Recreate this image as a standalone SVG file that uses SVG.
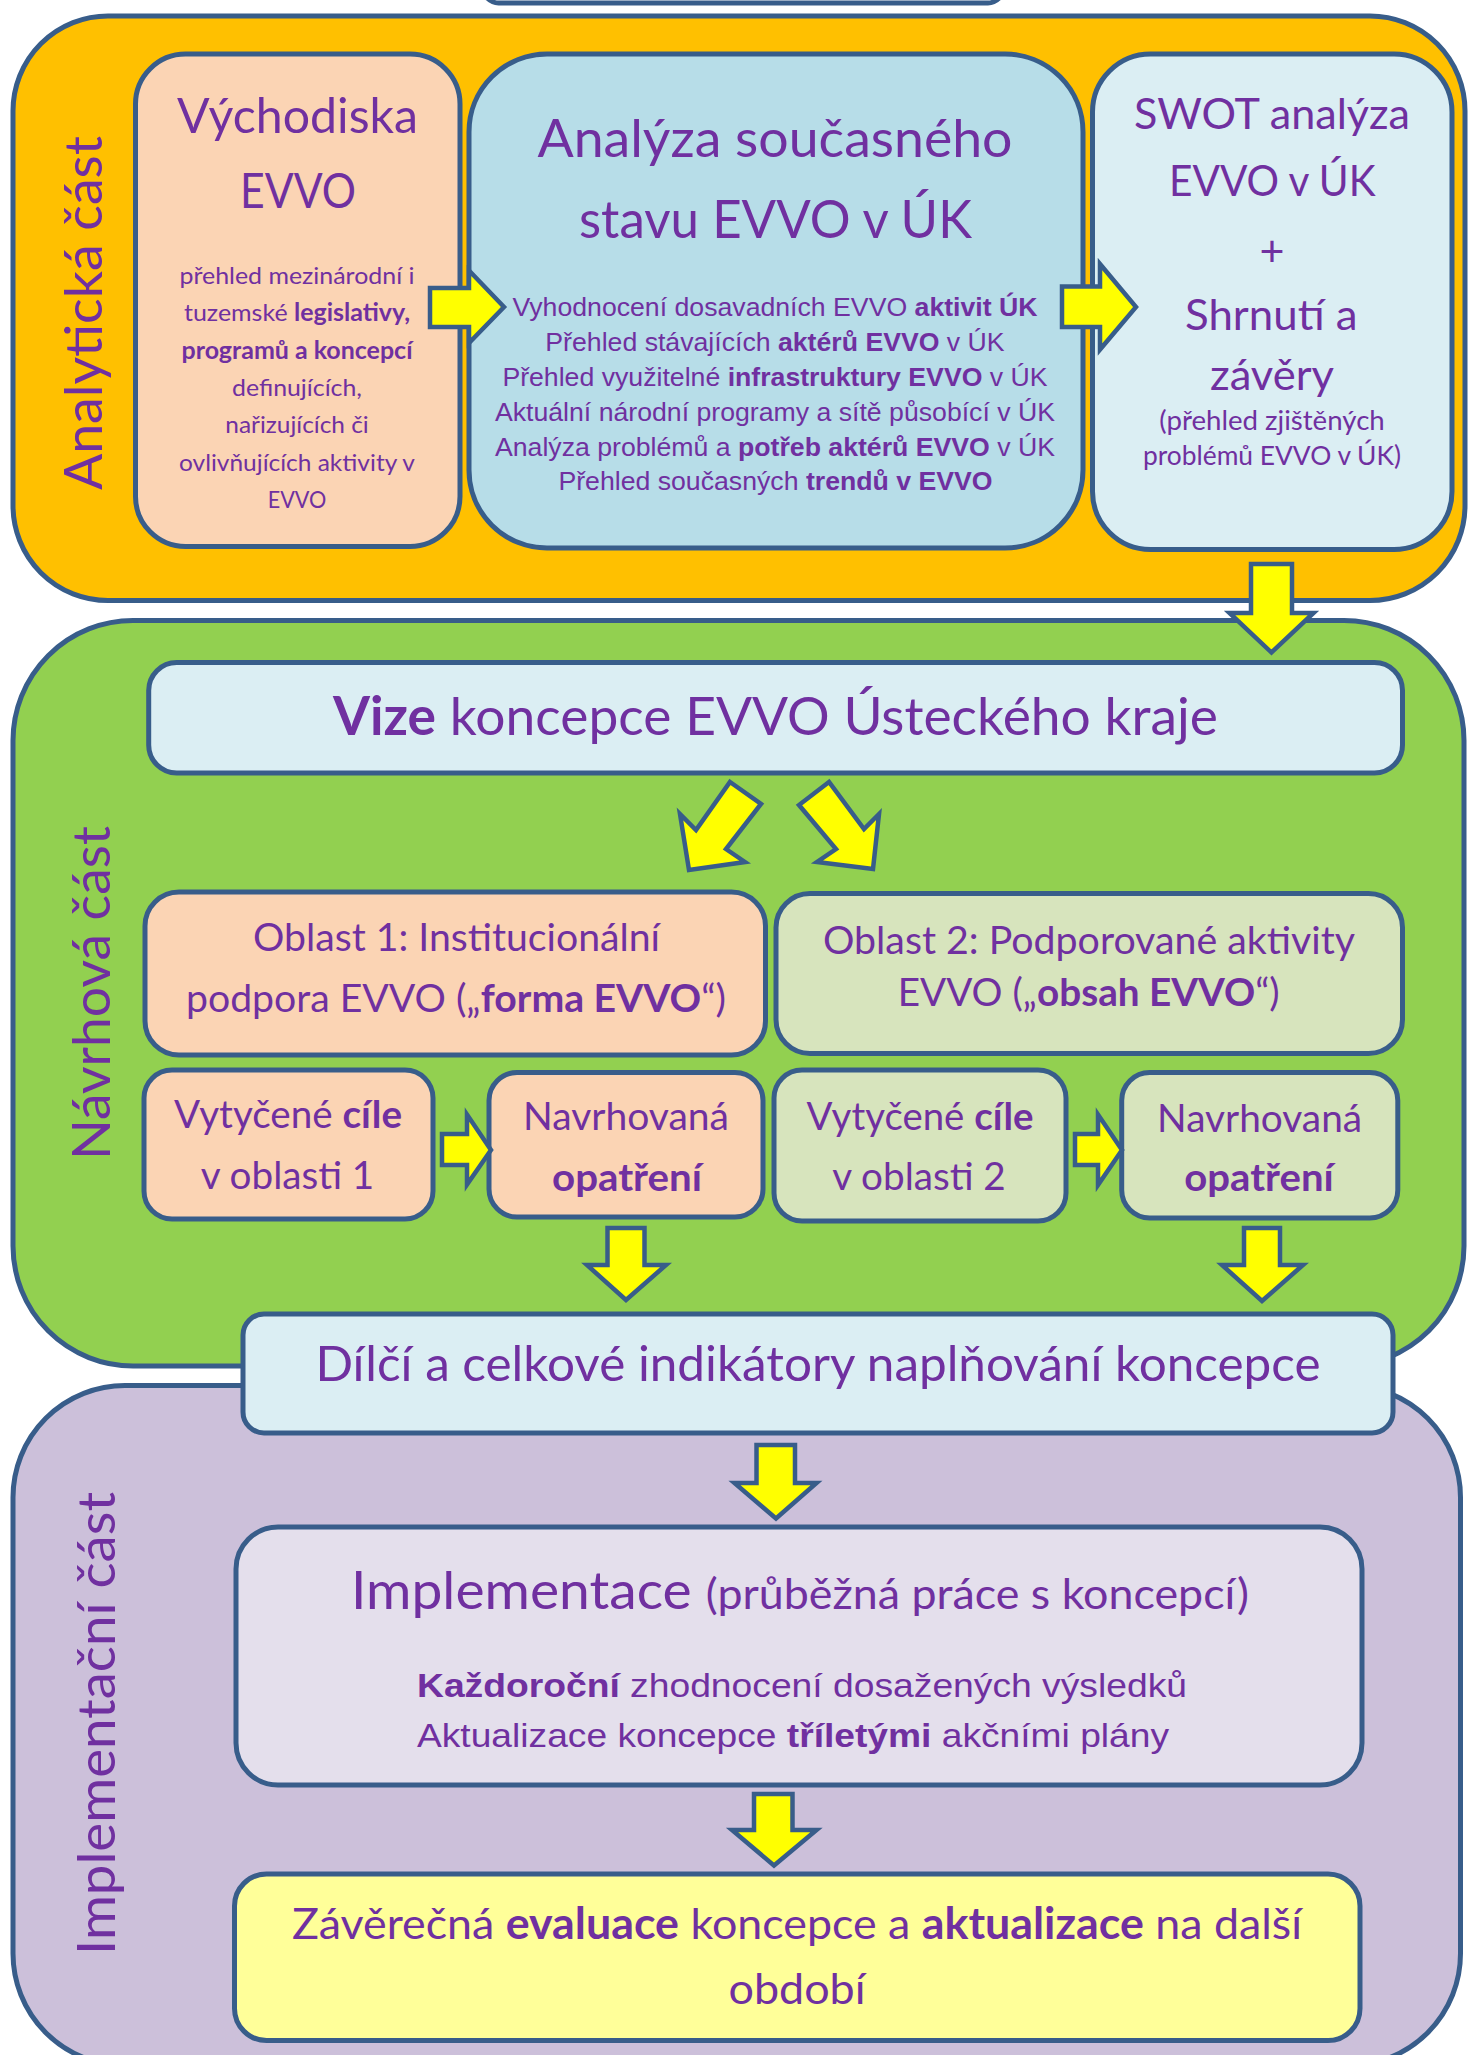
<svg xmlns="http://www.w3.org/2000/svg" width="1470" height="2055" viewBox="0 0 1470 2055">
<style>
.sec{stroke:#385D8A;stroke-width:5}
.box{stroke:#385D8A;stroke-width:5}
.arr{fill:#FFFF00;stroke:#385D8A;stroke-width:4.5;stroke-linejoin:miter}
.c{font-family:Lato,"Noto Sans","Liberation Sans",sans-serif;fill:#7030A0;text-anchor:middle}
.a{font-family:"Liberation Sans",Arial,sans-serif;fill:#7030A0;text-anchor:middle;font-size:26.67px}
.b{font-weight:bold}
</style>
<rect width="1470" height="2055" fill="#FFFFFF"/>
<g id="top-box"><rect x="483.5" y="-60" width="519.5" height="63" rx="15" fill="#FFFFFF" class="box"/></g>

<g id="analyticka-cast">
<rect class="sec" x="13" y="16" width="1452" height="584.5" rx="95" fill="#FFC000"/>
<text class="c" font-size="53" transform="translate(101.5,313) rotate(-90)" textLength="354" lengthAdjust="spacingAndGlyphs">Analytická část</text>
</g>
<g id="navrhova-cast">
<rect class="sec" x="13" y="620.5" width="1451" height="745.5" rx="120" fill="#92D050"/>
<text class="c" font-size="53" transform="translate(109.5,993) rotate(-90)" textLength="334" lengthAdjust="spacingAndGlyphs">Návrhová část</text>
</g>
<g id="implementacni-cast">
<rect class="sec" x="13" y="1385.5" width="1447.5" height="680" rx="112" fill="#CCC0DA"/>
<text class="c" font-size="53" transform="translate(114.7,1723.5) rotate(-90)" textLength="463" lengthAdjust="spacingAndGlyphs">Implementační část</text>
</g>

<g id="vychodiska">
<rect class="box" x="135.5" y="54" width="324.5" height="492.5" rx="50" fill="#FBD4B4"/>
<text class="c" font-size="48" x="297.5" y="132.5" textLength="241" lengthAdjust="spacingAndGlyphs">Východiska</text>
<text class="c" font-size="48" x="298" y="207.5" textLength="116" lengthAdjust="spacingAndGlyphs">EVVO</text>
<text class="c" font-size="24" x="297" y="284" textLength="235" lengthAdjust="spacingAndGlyphs">přehled mezinárodní i</text>
<text class="c" font-size="24" x="297" y="321" textLength="226" lengthAdjust="spacingAndGlyphs">tuzemské <tspan class="b">legislativy,</tspan></text>
<text class="c b" font-size="24" x="297" y="358.5" textLength="231" lengthAdjust="spacingAndGlyphs">programů a koncepcí</text>
<text class="c" font-size="24" x="297" y="396" textLength="130" lengthAdjust="spacingAndGlyphs">definujících,</text>
<text class="c" font-size="24" x="297" y="433" textLength="143.5" lengthAdjust="spacingAndGlyphs">nařizujících či</text>
<text class="c" font-size="24" x="297" y="471" textLength="236" lengthAdjust="spacingAndGlyphs">ovlivňujících aktivity v</text>
<text class="c" font-size="24" x="297" y="508" textLength="58.6" lengthAdjust="spacingAndGlyphs">EVVO</text>
</g>

<g id="analyza">
<rect class="box" x="469" y="54" width="614" height="494" rx="78" fill="#B7DDE8"/>
<text class="c" font-size="53" x="775" y="156.5" textLength="475" lengthAdjust="spacingAndGlyphs">Analýza současného</text>
<text class="c" font-size="53" x="775.5" y="238" textLength="393" lengthAdjust="spacingAndGlyphs">stavu EVVO v ÚK</text>
<text class="a" x="775" y="316">Vyhodnocení dosavadních EVVO <tspan class="b">aktivit ÚK</tspan></text>
<text class="a" x="775" y="351">Přehled stávajících <tspan class="b">aktérů EVVO</tspan> v ÚK</text>
<text class="a" x="775" y="386">Přehled využitelné <tspan class="b">infrastruktury EVVO</tspan> v ÚK</text>
<text class="a" x="775" y="421">Aktuální národní programy a sítě působící v ÚK</text>
<text class="a" x="775" y="456">Analýza problémů a <tspan class="b">potřeb aktérů EVVO</tspan> v ÚK</text>
<text class="a" x="775.5" y="490">Přehled současných <tspan class="b">trendů v EVVO</tspan></text>
</g>

<g id="swot">
<rect class="box" x="1092.5" y="54" width="359.5" height="495.5" rx="58" fill="#DBEEF3"/>
<text class="c" font-size="43" x="1272" y="128.5" textLength="276" lengthAdjust="spacingAndGlyphs">SWOT analýza</text>
<text class="c" font-size="43" x="1272.3" y="195.7" textLength="206.6" lengthAdjust="spacingAndGlyphs">EVVO v ÚK</text>
<text class="c" font-size="43" x="1272" y="266">+</text>
<text class="c" font-size="43" x="1271.3" y="330" textLength="172.6" lengthAdjust="spacingAndGlyphs">Shrnutí a</text>
<text class="c" font-size="43" x="1272" y="389.5" textLength="124" lengthAdjust="spacingAndGlyphs">závěry</text>
<text class="c" font-size="26.5" x="1272" y="430" textLength="225.5" lengthAdjust="spacingAndGlyphs">(přehled zjištěných</text>
<text class="c" font-size="26.5" x="1272" y="465" textLength="258" lengthAdjust="spacingAndGlyphs">problémů EVVO v ÚK)</text>
</g>

<g id="vize">
<rect class="box" x="148.7" y="662.5" width="1253.8" height="110.5" rx="28" fill="#DBEEF3"/>
<text class="c" font-size="53" x="775.5" y="735" textLength="885" lengthAdjust="spacingAndGlyphs"><tspan class="b">Vize</tspan> koncepce EVVO Ústeckého kraje</text>
</g>

<g id="oblast1">
<rect class="box" x="145" y="892" width="620.5" height="163" rx="34" fill="#FBD4B4"/>
<text class="c" font-size="38.5" x="456.5" y="950.7" textLength="407" lengthAdjust="spacingAndGlyphs">Oblast 1: Institucionální</text>
<text class="c" font-size="38.5" x="456" y="1012" textLength="540" lengthAdjust="spacingAndGlyphs">podpora EVVO („<tspan class="b">forma EVVO</tspan>“)</text>
</g>
<g id="oblast2">
<rect class="box" x="776" y="893.5" width="626.5" height="160" rx="34" fill="#D7E4BD"/>
<text class="c" font-size="38.5" x="1089" y="954" textLength="532" lengthAdjust="spacingAndGlyphs">Oblast 2: Podporované aktivity</text>
<text class="c" font-size="38.5" x="1088.7" y="1005.5" textLength="382" lengthAdjust="spacingAndGlyphs">EVVO („<tspan class="b">obsah EVVO</tspan>“)</text>
</g>
<g id="cile1">
<rect class="box" x="144" y="1070" width="289" height="149" rx="28" fill="#FBD4B4"/>
<text class="c" font-size="38.5" x="288" y="1128" textLength="228" lengthAdjust="spacingAndGlyphs">Vytyčené <tspan class="b">cíle</tspan></text>
<text class="c" font-size="38.5" x="287.5" y="1188.5" textLength="173.6" lengthAdjust="spacingAndGlyphs">v oblasti 1</text>
</g>
<g id="opatreni1">
<rect class="box" x="489" y="1072.5" width="274" height="144.5" rx="28" fill="#FBD4B4"/>
<text class="c" font-size="38.5" x="626" y="1130" textLength="206" lengthAdjust="spacingAndGlyphs">Navrhovaná</text>
<text class="c b" font-size="38.5" x="627" y="1190.5" textLength="150" lengthAdjust="spacingAndGlyphs">opatření</text>
</g>
<g id="cile2">
<rect class="box" x="774" y="1070" width="292" height="151" rx="28" fill="#D7E4BD"/>
<text class="c" font-size="38.5" x="920" y="1130" textLength="227" lengthAdjust="spacingAndGlyphs">Vytyčené <tspan class="b">cíle</tspan></text>
<text class="c" font-size="38.5" x="919" y="1189.5" textLength="173.6" lengthAdjust="spacingAndGlyphs">v oblasti 2</text>
</g>
<g id="opatreni2">
<rect class="box" x="1121.7" y="1072.6" width="276.1" height="145.4" rx="28" fill="#D7E4BD"/>
<text class="c" font-size="38.5" x="1259.6" y="1132" textLength="205" lengthAdjust="spacingAndGlyphs">Navrhovaná</text>
<text class="c b" font-size="38.5" x="1259" y="1191" textLength="149.5" lengthAdjust="spacingAndGlyphs">opatření</text>
</g>

<g id="indikatory">
<rect class="box" x="243" y="1314" width="1150" height="119" rx="21" fill="#DBEEF3"/>
<text class="c" font-size="48" x="818" y="1381" textLength="1005" lengthAdjust="spacingAndGlyphs">Dílčí a celkové indikátory naplňování koncepce</text>
</g>

<g id="implementace">
<rect class="box" x="236" y="1527" width="1126" height="258" rx="42" fill="#E4DFEC"/>
<text class="c" font-size="53" x="800" y="1609" textLength="898" lengthAdjust="spacingAndGlyphs">Implementace <tspan font-size="43">(průběžná práce s koncepcí)</tspan></text>
<text class="a" style="font-size:34px;text-anchor:start" x="417" y="1696.5" textLength="770" lengthAdjust="spacingAndGlyphs"><tspan class="b">Každoroční</tspan> zhodnocení dosažených výsledků</text>
<text class="a" style="font-size:34px;text-anchor:start" x="417" y="1746.5" textLength="752" lengthAdjust="spacingAndGlyphs">Aktualizace koncepce <tspan class="b">tříletými</tspan> akčními plány</text>
</g>

<g id="evaluace">
<rect class="box" x="234.5" y="1874" width="1125.5" height="166.5" rx="32" fill="#FFFF99"/>
<text class="c" font-size="43" x="797" y="1938.8" textLength="1010" lengthAdjust="spacingAndGlyphs">Závěrečná <tspan class="b">evaluace</tspan> koncepce a <tspan class="b">aktualizace</tspan> na další</text>
<text class="c" font-size="43" x="797" y="2003.5" textLength="137" lengthAdjust="spacingAndGlyphs">období</text>
</g>

<g id="connectors">
<path class="arr" d="M430,288 H469 V270.5 L504,307 L469,343 V327 H430 Z"/>
<path class="arr" d="M1062,286.5 H1100 V264 L1136,307 L1100,349.5 V327 H1062 Z"/>
<path class="arr" d="M1251,564 V613 H1229.5 L1271.5,652.5 L1313.5,613 H1292 V564 Z"/>
<path class="arr" d="M730,782 L761,804 L726,849 L745,862 L689,870 L680,814 L696,830 Z"/>
<path class="arr" d="M829,782 L799,805 L836,849 L817,862 L873,869 L879,814 L864,829 Z"/>
<path class="arr" d="M442,1134 H467 V1114.5 L491,1150 L467,1184.5 V1165 H442 Z"/>
<path class="arr" d="M1075,1134 H1098 V1114.5 L1122,1150 L1098,1185 V1165 H1075 Z"/>
<path class="arr" d="M607.5,1228 V1265 H587 L626,1300 L666,1265 H644.5 V1228 Z"/>
<path class="arr" d="M1244,1228 V1265 H1222 L1262,1301 L1303,1265 H1280 V1228 Z"/>
<path class="arr" d="M756.5,1445 V1483 H734.5 L776,1518.5 L816.5,1483 H795 V1445 Z"/>
<path class="arr" d="M754,1794 V1830 H732 L774,1865.5 L816.5,1830 H792.5 V1794 Z"/>
</g>
</svg>
